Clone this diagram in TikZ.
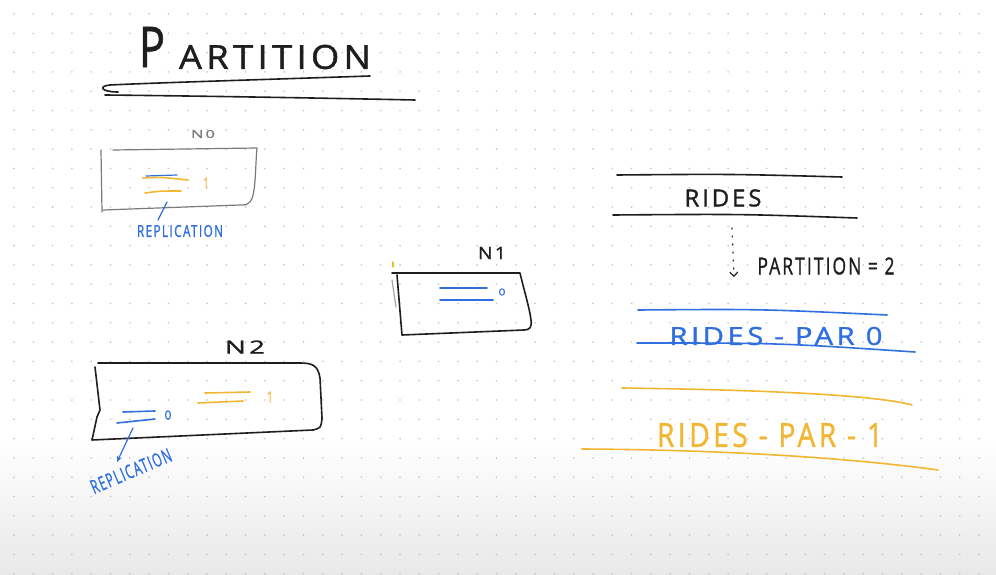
\documentclass[tikz,border=0pt]{standalone}
\usepackage{fontspec}
\setmainfont{Open Sans}
\newfontfamily\hand[LetterSpace=12,FakeBold=1.2]{Open Sans}
\usetikzlibrary{arrows.meta}
\definecolor{ink}{HTML}{1E1E1E}
\definecolor{pblue}{HTML}{2F6FDF}
\definecolor{pyel}{HTML}{F2B632}
\definecolor{dotc}{HTML}{C4C4C4}
\definecolor{boxgray}{HTML}{7A7A7A}
\newcommand\hw[3]{\resizebox{#1pt}{#2pt}{\hand #3}}
\begin{document}
\begin{tikzpicture}[x=1pt,y=-1pt,
  pen/.style={line width=1.6pt,line cap=round,line join=round},
  thinpen/.style={line width=1.2pt,line cap=round,line join=round},
  lbl/.style={inner sep=0pt,outer sep=0pt}]
\useasboundingbox (0,0) rectangle (996,575);
\fill[white] (0,0) rectangle (996,575);
\shade[top color=white,bottom color=black!9] (0,440) rectangle (996,575);
\foreach \i in {0,...,51}{\foreach \j in {0,...,29}{\fill[dotc] (14+19.3*\i,14+19.3*\j) circle (0.9);}}

% title
\node[lbl,ink] (titleP) at (152,47) {\hw{26}{40}{P}};
\node[lbl,ink] (titleR) at (275,57) {\hw{192}{24}{ARTITION}};
\draw[pen,ink] (370,76) .. controls (250,80) and (150,83) .. (110,85) .. controls (98,86) and (101,92) .. (118,92);
\draw[pen,ink] (105,95) .. controls (200,96) and (320,98) .. (415,100);

% N0
\node[lbl,boxgray] (n0lbl) at (203,134) {\hw{24}{8}{N0}};
\draw[thinpen,boxgray] (101,150) -- (102,212);
\draw[thinpen,boxgray] (113,150) -- (257,148) .. controls (255,170) and (256,195) .. (250,202) .. controls (248,205) and (245,205) .. (240,205) -- (103,210);
\draw[thinpen,pblue] (146,176) -- (177,175);
\draw[pen,pyel] (143,178) .. controls (160,177) .. (188,180);
\draw[pen,pyel] (145,193) .. controls (160,191) .. (181,191);
\node[lbl,pyel] (n0one) at (206,183) {\hw{5}{11}{1}};
\node[lbl,pblue] (rep0) at (180,231) {\hw{86}{12}{REPLICATION}};
\coordinate (r0a) at (167,202);
\coordinate (r0b) at (158,220);
\draw[thinpen,pblue] (r0a) -- (r0b);

% N1
\node[lbl,ink] (n1lbl) at (492,253) {\hw{28}{12}{N1}};
\draw[pen,ink] (392,273) -- (520,273) .. controls (524,290) and (530,310) .. (531,320) .. controls (532,327) and (530,330) .. (524,330) -- (402,335) -- (397,275);
\draw[thinpen,black!35] (392,280) -- (396,307);
\draw[thinpen,pyel] (393,262) -- (393,267);
\draw[pen,pblue] (440,288) -- (487,288);
\draw[pen,pblue] (440,300) -- (493,300);
\node[lbl,pblue] (n1zero) at (502,292) {\hw{7}{7}{0}};

% N2
\node[lbl,ink] (n2lbl) at (245,347) {\hw{40}{13}{N2}};
\draw[pen,ink] (95,367) -- (100,410) -- (97,417) -- (92,440) -- (313,430) .. controls (321,428) .. (322,418) -- (320,378) .. controls (318,365) and (312,363) .. (300,363) -- (98,363);
\draw[pen,pyel] (205,393) -- (250,392);
\draw[pen,pyel] (198,403) -- (243,401);
\node[lbl,pyel] (n2one) at (270,397) {\hw{6}{11}{1}};
\draw[pen,pblue] (123,412) -- (155,411);
\draw[pen,pblue] (117,423) -- (155,419);
\node[lbl,pblue] (n2zero) at (168,415) {\hw{7}{9}{0}};
\node[lbl,pblue,rotate=23] (rep2) at (131,471) {\hw{86}{14}{REPLICATION}};
\coordinate (r2a) at (133,428);
\coordinate (r2b) at (117,462);
\draw[thinpen,pblue,-{Stealth[length=6pt,width=5pt]}] (r2a) -- (r2b);

% RIDES
\draw[pen,ink] (617,175) .. controls (730,174) .. (842,177);
\node[lbl,ink] (rides) at (723,198) {\hw{77}{17}{RIDES}};
\draw[pen,ink] (613,215) .. controls (740,214) .. (857,218);
\coordinate (da) at (732,228);
\coordinate (db) at (734,277);
\draw[thinpen,ink,dash pattern=on 1pt off 7pt,-{Straight Barb[length=4pt,width=8pt]}] (da) -- (db);
\node[lbl,ink] (pcount) at (826,266) {\hw{137}{17}{PARTITION = 2}};

% partition 0
\draw[pen,pblue] (638,310) .. controls (760,309) .. (887,315);
\node[lbl,pblue] (par0) at (776,336) {\hw{213}{18}{RIDES - PAR 0}};
\draw[pen,pblue] (637,343) .. controls (780,343) .. (915,352);

% partition 1
\draw[pen,pyel] (622,388) .. controls (780,390) and (880,396) .. (912,405);
\node[lbl,pyel] (par1) at (770,435) {\hw{226}{24}{RIDES - PAR - 1}};
\draw[pen,pyel] (582,449) .. controls (760,450) and (880,462) .. (938,470);
\end{tikzpicture}
\end{document}
